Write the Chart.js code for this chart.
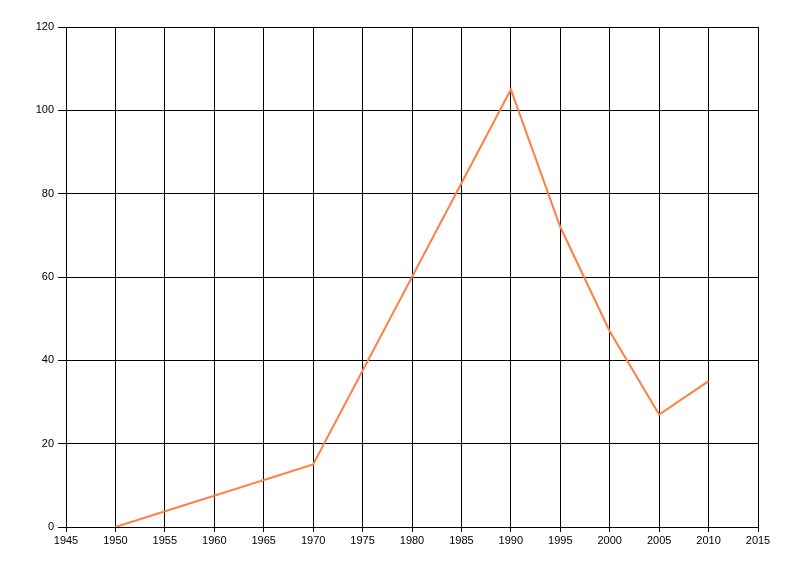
<!DOCTYPE html>
<html>
<head>
<meta charset="utf-8">
<script src="https://cdn.jsdelivr.net/npm/chart.js@4.4.0/dist/chart.umd.min.js"></script>
<style>
html,body{margin:0;padding:0;background:#fff;}
#wrap{width:800px;height:576px;}
</style>
</head>
<body>
<div id="wrap"><canvas id="c" width="800" height="576"></canvas></div>
<script>
const years = [1950, 1970, 1990, 1995, 2000, 2005, 2010];
const values = [0, 15, 105, 72, 47, 27, 35];
const xMin = 1945, xMax = 2015, xStep = 5;
const yMin = 0, yMax = 120, yStep = 20;

const pts = years.map((y, i) => ({x: y, y: values[i]}));

new Chart(document.getElementById('c'), {
  type: 'line',
  data: {
    datasets: [{
      data: pts,
      borderColor: '#FF7F45',
      borderWidth: 2,
      pointRadius: 0,
      fill: false,
      tension: 0
    }]
  },
  options: {
    responsive: false,
    animation: false,
    layout: {padding: {top: 27, right: 42, left: 0, bottom: 0}},
    plugins: {legend: {display: false}, tooltip: {enabled: false}},
    scales: {
      x: {
        type: 'linear',
        min: xMin, max: xMax,
        afterFit: s => { s.height = 49; },
        ticks: {stepSize: xStep, color: '#000', font: {family: 'Liberation Sans', size: 11}, padding: 2, maxRotation: 0, callback: v => String(v)},
        grid: {color: '#000', lineWidth: 1, tickLength: 5},
        border: {color: '#000'}
      },
      y: {
        min: yMin, max: yMax,
        afterFit: s => { s.width = 66; },
        ticks: {stepSize: yStep, color: '#000', font: {family: 'Liberation Sans', size: 11}, padding: 4},
        grid: {color: '#000', lineWidth: 1, tickLength: 8},
        border: {color: '#000'}
      }
    }
  }
});
</script>
</body>
</html>
